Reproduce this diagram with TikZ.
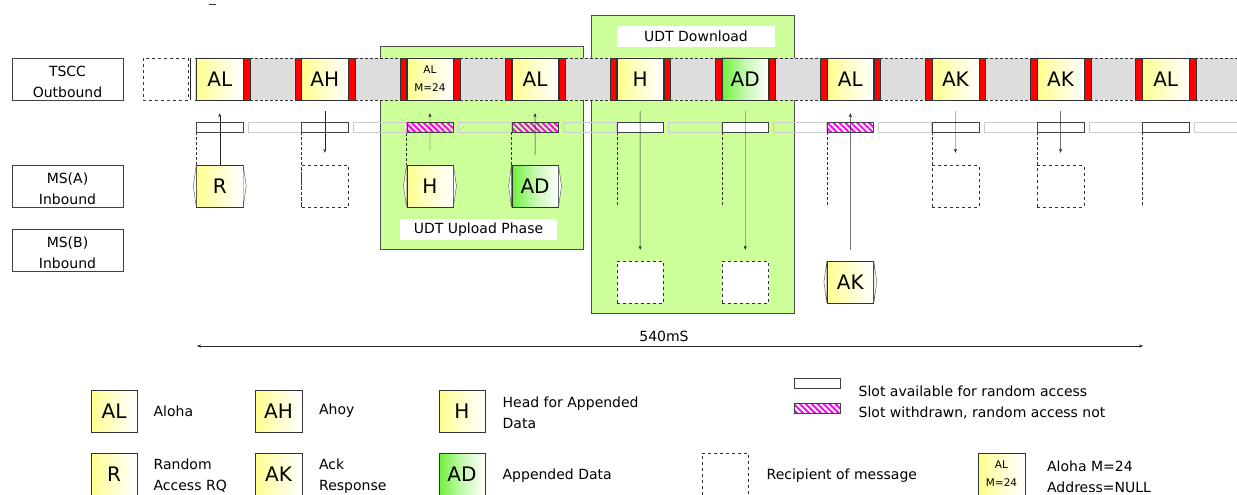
\documentclass[tikz,border=0pt]{standalone}
\usepackage{fontspec}
\setmainfont{DejaVu Sans}
\usetikzlibrary{arrows.meta, positioning, calc, patterns.meta}
\definecolor{msgyellow}{RGB}{255, 255, 140}
\definecolor{msggreen}{RGB}{110, 240, 60}
\definecolor{phasegreen}{RGB}{204, 255, 153}
\definecolor{stripgrey}{RGB}{221, 221, 221}
\definecolor{bandgrey}{RGB}{205, 205, 205}
\definecolor{hatchpink}{RGB}{255, 0, 255}
\newcommand{\almtext}{AL\\M=24}

\begin{document}
\begin{tikzpicture}[x=1pt, y=-1pt, font=\fontsize{14}{21}\selectfont,
        lbl/.style={draw=black!75, fill=white, minimum width=111pt, minimum height=42pt, inner sep=0pt,
                    label={[align=center, inner sep=0pt, yshift=-3pt]center:#1}},
        msg/.style={draw=black!80, left color=msgyellow, right color=white, middle color=msgyellow!45,
                    minimum width=46.5pt, minimum height=42pt, inner sep=0pt, align=center, font=\fontsize{20}{22}\selectfont},
        msgad/.style={msg, left color=msggreen, middle color=msggreen!40},
        almsg/.style={msg, font=\fontsize{10.5}{18}\selectfont},
        redbar/.style={draw=black!80, fill=red, minimum width=6.5pt, minimum height=42pt, inner sep=0pt},
        freeslot/.style={draw=black!75, fill=white, minimum width=46.5pt, minimum height=10pt, inner sep=0pt},
        lockslot/.style={freeslot, pattern={Lines[angle=-45, distance=4.2pt, line width=2pt]}, pattern color=hatchpink},
        rcpt/.style={draw=black!80, dashed, fill=white, minimum width=46.5pt, minimum height=42pt, inner sep=0pt},
        guide/.style={densely dashed, black!80},
        arr/.style={-{Stealth[length=4pt, width=3pt]}, black!85},
        flap/.style={draw=black!70, fill=white},
        phase/.style={draw=black!70, fill=phasegreen, inner sep=0pt},
        phasetag/.style={fill=white, minimum height=21pt, inner sep=0pt},
        legtext/.style={inner sep=0pt, align=left}]
    \useasboundingbox (0,0) rectangle (1237,495);
    \draw[black!80] (209,4.5) -- (216,4.5);

    % phases
    \node[phase, minimum width=203pt, minimum height=203pt] (upload) at (481.5,147.5) {};
    \node[phase, minimum width=203pt, minimum height=298pt] (download) at (692.5,164) {};
    \node[phasetag, minimum width=157pt] (uploadtag) at (478.5,229.5) {UDT Upload Phase};
    \node[phasetag, minimum width=158pt] (downloadtag) at (696,36.5) {UDT Download};

    % row labels
    \node[lbl={TSCC\\Outbound}] (tscc) at (67.5,79) {};
    \node[lbl={MS(A)\\Inbound}] (msa) at (67.5,186) {};
    \node[lbl={MS(B)\\Inbound}] (msb) at (67.5,250) {};

    % outbound strip
    \node[rcpt, minimum width=45pt] (pre) at (165.5,79) {};
    \fill[stripgrey] (195,58) rectangle (1240,100);
    \draw[densely dashed, black!80] (195,58) -- (1240,58) (195,100) -- (1240,100);
    \draw[black!85] ([xshift=2pt]pre.north east) -- ([xshift=2pt]pre.south east);
    \foreach \i in {0,...,9} {
        \pgfmathsetmacro\xo{190+105.1*\i}
        \draw[bandgrey] (\xo+58,122) rectangle (\xo+111,132);
    }
    \foreach \i/\t/\sty/\sl in {0/AL/msg/freeslot, 1/AH/msg/freeslot, 2/\almtext/almsg/lockslot, 3/AL/msg/lockslot,
            4/H/msg/freeslot, 5/AD/msgad/freeslot, 6/AL/msg/lockslot, 7/AK/msg/freeslot, 8/AK/msg/freeslot, 9/AL/msg/freeslot} {
        \pgfmathsetmacro\xo{190+105.1*\i}
        \node[\sty] (f\i) at (\xo+29.75,79) {\t};
        \ifnum\i>0 \node[redbar, left=0pt of f\i] (rl\i) {}; \fi
        \node[redbar, right=0pt of f\i] (rr\i) {};
        \node[\sl] (s\i) at (\xo+29.75,127) {};
        \draw[guide] (s\i.south west) -- (s\i.south west |- msa.south);
    }

    % inbound bursts and recipients
    \node[msg] (a0) at (219.75,186) {R};
    \node[rcpt] (a1) at (324.85,186) {};
    \node[msg] (a2) at (429.95,186) {H};
    \node[msgad] (a3) at (535.05,186) {AD};
    \node[rcpt] (a7) at (955.45,186) {};
    \node[rcpt] (a8) at (1060.55,186) {};
    \node[rcpt] (b4) at (640.15,282) {};
    \node[rcpt] (b5) at (745.25,282) {};
    \node[msg] (b6) at (850.35,282) {AK};
    \foreach \n in {a0,a2,a3,b6} {
        \filldraw[flap] (\n.north west) -- ([xshift=-3pt]\n.west) -- (\n.south west) -- cycle;
        \filldraw[flap] (\n.north east) -- ([xshift=3pt]\n.east) -- (\n.south east) -- cycle;
    }

    % uplink and downlink
    \draw[arr] (a0.north) -- ([yshift=-13pt]f0.south);
    \draw[arr] ([yshift=15pt]a2.north) -- ([yshift=-13pt]f2.south);
    \draw[arr] ([yshift=10pt]a3.north) -- ([yshift=-13pt]f3.south);
    \draw[arr] ([yshift=11pt]b6.north) -- ([yshift=-13pt]f6.south);
    \draw[arr] ([yshift=-11pt]f1.south) -- ([yshift=12pt]a1.north);
    \draw[arr] ([yshift=-11pt]f4.south) -- ([yshift=11pt]b4.north);
    \draw[arr] ([yshift=-11pt]f5.south) -- ([yshift=11pt]b5.north);
    \draw[arr] ([yshift=-11pt]f7.south) -- ([yshift=12pt]a7.north);
    \draw[arr] ([yshift=-11pt]f8.south) -- ([yshift=12pt]a8.north);

    % cycle time
    \coordinate (spanL) at (197,346);
    \coordinate (spanR) at (1143,346);
    \draw[{Stealth[length=4pt, width=3pt]}-{Stealth[length=4pt, width=3pt]}, black!85] (spanL) -- (spanR);
    \node[inner sep=0pt] (spantext) at (664,336) {540mS};

    % legend
    \node[msg] (l-al) at (114,411) {AL};
    \node[msg] (l-ah) at (278.5,411) {AH};
    \node[msg] (l-h) at (462,411) {H};
    \node[msg] (l-r) at (114,474) {R};
    \node[msg] (l-ak) at (278.5,474) {AK};
    \node[msgad] (l-ad) at (462,474) {AD};
    \node[freeslot] (l-free) at (817,383) {};
    \node[lockslot] (l-lock) at (817,408.5) {};
    \node[rcpt] (l-rc) at (725,474) {};
    \node[almsg] (l-alm) at (1001.5,474) {\almtext};
    \node[legtext, right=16pt of l-al] (t-al) {Aloha};
    \node[legtext, right=17pt of l-ah] (t-ah) {Ahoy};
    \node[legtext, right=17pt of l-h, yshift=-2pt] (t-h) {Head for Appended\\Data};
    \node[legtext, right=16pt of l-r, yshift=-2pt] (t-r) {Random\\Access RQ};
    \node[legtext, right=17pt of l-ak, yshift=-2pt] (t-ak) {Ack\\Response};
    \node[legtext, right=17pt of l-ad, yshift=-2pt] (t-ad) {Appended Data};
    \node[legtext, right=18pt of l-free, yshift=-8pt] (t-free) {Slot available for random access};
    \node[legtext, right=18pt of l-lock, yshift=-4pt] (t-lock) {Slot withdrawn, random access not};
    \node[legtext, right=18pt of l-rc, yshift=-2pt] (t-rc) {Recipient of message};
    \node[legtext, right=22pt of l-alm, yshift=-3pt] (t-alm) {Aloha M=24\\Address=NULL};
\end{tikzpicture}
\end{document}
